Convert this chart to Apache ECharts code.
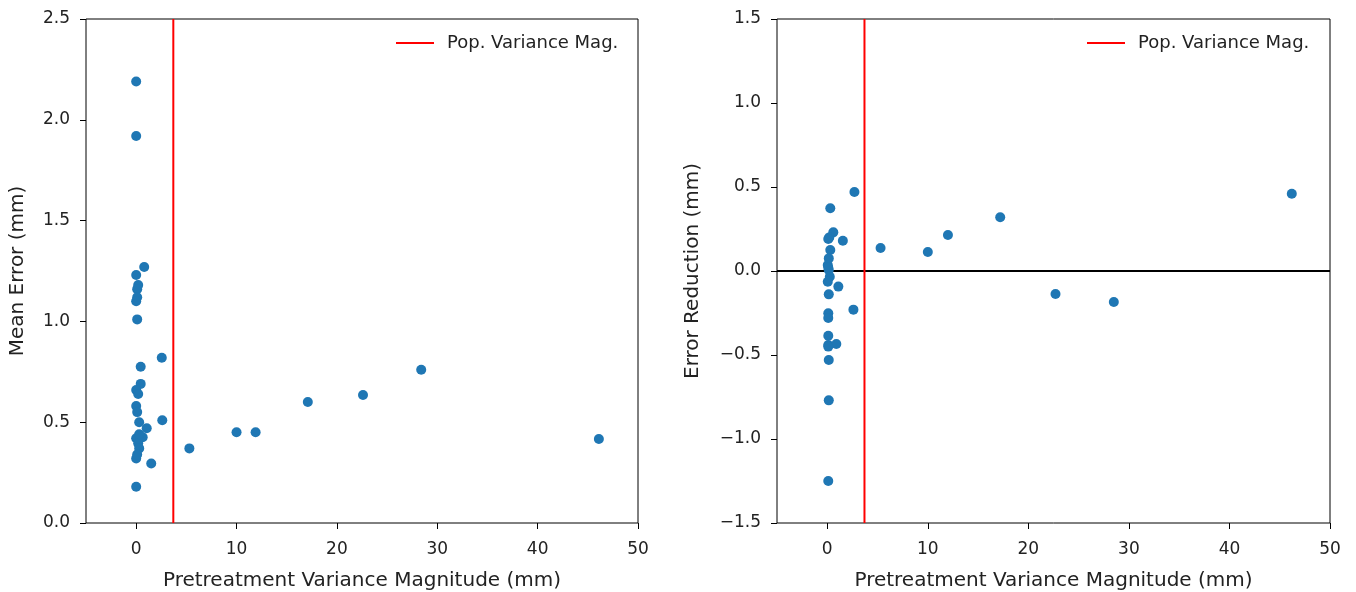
<!DOCTYPE html>
<html>
<head>
<meta charset="utf-8" />
<title>Variance magnitude scatter</title>
<style>
  html, body { margin: 0; padding: 0; background: #fff; }
  #main { width: 1356px; height: 592px; }
</style>
</head>
<body>
<div id="main"></div>
<script src="https://cdn.jsdelivr.net/npm/echarts@6/dist/echarts.min.js"></script>
<script>
// values
const xTicks = [0, 10, 20, 30, 40, 50];
const popVarianceMag = 3.7;

const meanErrX = [0.0, 0.0, 0.8, 0.0, 0.2, 0.1, 0.1, 0.0, 0.1, 2.55, 0.45, 0.45, 0.0, 0.2, 0.0, 0.1, 0.3, 2.6, 1.05, 0.0, 0.65, 0.2, 0.3, 0.0, 1.5, 0.0, 0.1, 0.3, 5.3, 10.0, 11.9, 17.1, 22.6, 28.4, 46.1];
const meanErrY = [2.19, 1.92, 1.27, 1.23, 1.18, 1.16, 1.12, 1.10, 1.01, 0.82, 0.775, 0.69, 0.66, 0.64, 0.58, 0.55, 0.50, 0.51, 0.47, 0.42, 0.425, 0.395, 0.37, 0.32, 0.295, 0.18, 0.34, 0.44, 0.37, 0.45, 0.45, 0.60, 0.635, 0.76, 0.417];

const reductionX = [2.7, 0.3, 0.6, 0.2, 0.1, 1.55, 0.3, 0.15, 0.05, 0.15, 0.25, 0.05, 1.1, 0.15, 2.6, 0.1, 0.1, 0.1, 0.1, 0.9, 0.15, 0.15, 0.1, 0.1, 0.1, 5.3, 10.0, 12.0, 17.2, 22.7, 28.5, 46.2];
const reductionY = [0.47, 0.373, 0.23, 0.20, 0.19, 0.18, 0.125, 0.075, 0.036, 0.006, -0.034, -0.064, -0.093, -0.139, -0.23, -0.252, -0.28, -0.385, -0.44, -0.435, -0.53, -0.77, -1.25, -0.45, 0.02, 0.137, 0.113, 0.214, 0.32, -0.137, -0.185, 0.46];

const pairs = (xs, ys) => xs.map((x, i) => [x, ys[i]]);

const font = 'DejaVu Sans';
const minus = v => v.toFixed(1).replace('-', '\u2212');

function xAxisFor(gridIndex) {
  return {
    gridIndex: gridIndex, type: 'value', min: -5, max: 50,
    name: 'Pretreatment Variance Magnitude (mm)', nameLocation: 'middle', nameGap: 48,
    nameTextStyle: { fontFamily: font, fontSize: 20, color: '#222' },
    axisLine: { show: false, onZero: false },
    axisTick: { show: true, length: 6, lineStyle: { color: '#000' }, customValues: xTicks },
    axisLabel: { fontFamily: font, fontSize: 17, color: '#222', margin: 18, customValues: xTicks },
    splitLine: { show: false }
  };
}
function yAxisFor(gridIndex, min, max, name, gap) {
  return {
    gridIndex: gridIndex, type: 'value', min: min, max: max, interval: 0.5,
    name: name, nameLocation: 'middle', nameGap: gap,
    nameTextStyle: { fontFamily: font, fontSize: 20, color: '#222' },
    axisLine: { show: false, onZero: false },
    axisTick: { show: true, length: 6, lineStyle: { color: '#000' } },
    axisLabel: { fontFamily: font, fontSize: 17, color: '#222', margin: 16, formatter: minus },
    splitLine: { show: false }
  };
}
function legendFor(left) {
  return {
    left: left, top: 34, padding: 0, icon: 'rect', itemWidth: 38, itemHeight: 2,
    data: ['Pop. Variance Mag.'],
    textStyle: { fontFamily: font, fontSize: 18, color: '#222', padding: [0, 0, 0, 8] }
  };
}
const dot = { color: '#1f77b4', opacity: 1 };

const chart = echarts.init(document.getElementById('main'));
chart.setOption({
  animation: false,
  grid: [
    { left: 86, right: 718, top: 19, bottom: 69, show: true, borderColor: '#000', borderWidth: 1, outerBoundsMode: 'none' },
    { left: 777, right: 26, top: 19, bottom: 69, show: true, borderColor: '#000', borderWidth: 1, outerBoundsMode: 'none' }
  ],
  legend: [legendFor(396), legendFor(1087)],
  xAxis: [xAxisFor(0), xAxisFor(1)],
  yAxis: [
    yAxisFor(0, 0, 2.5, 'Mean Error (mm)', 58),
    yAxisFor(1, -1.5, 1.5, 'Error Reduction (mm)', 74)
  ],
  series: [
    { type: 'line', name: 'Pop. Variance Mag.', xAxisIndex: 0, yAxisIndex: 0, showSymbol: false,
      data: [[popVarianceMag, 0], [popVarianceMag, 2.5]], lineStyle: { color: '#ff0000', width: 2 }, itemStyle: { color: '#ff0000' }, z: 1 },
    { type: 'scatter', xAxisIndex: 0, yAxisIndex: 0, symbolSize: 10, itemStyle: dot, data: pairs(meanErrX, meanErrY), z: 3 },
    { type: 'line', xAxisIndex: 1, yAxisIndex: 1, showSymbol: false,
      data: [[-5, 0], [50, 0]], lineStyle: { color: '#000', width: 2 }, z: 1 },
    { type: 'line', name: 'Pop. Variance Mag.', xAxisIndex: 1, yAxisIndex: 1, showSymbol: false,
      data: [[popVarianceMag, -1.5], [popVarianceMag, 1.5]], lineStyle: { color: '#ff0000', width: 2 }, itemStyle: { color: '#ff0000' }, z: 1 },
    { type: 'scatter', xAxisIndex: 1, yAxisIndex: 1, symbolSize: 10, itemStyle: dot, data: pairs(reductionX, reductionY), z: 3 }
  ]
});
</script>
</body>
</html>
